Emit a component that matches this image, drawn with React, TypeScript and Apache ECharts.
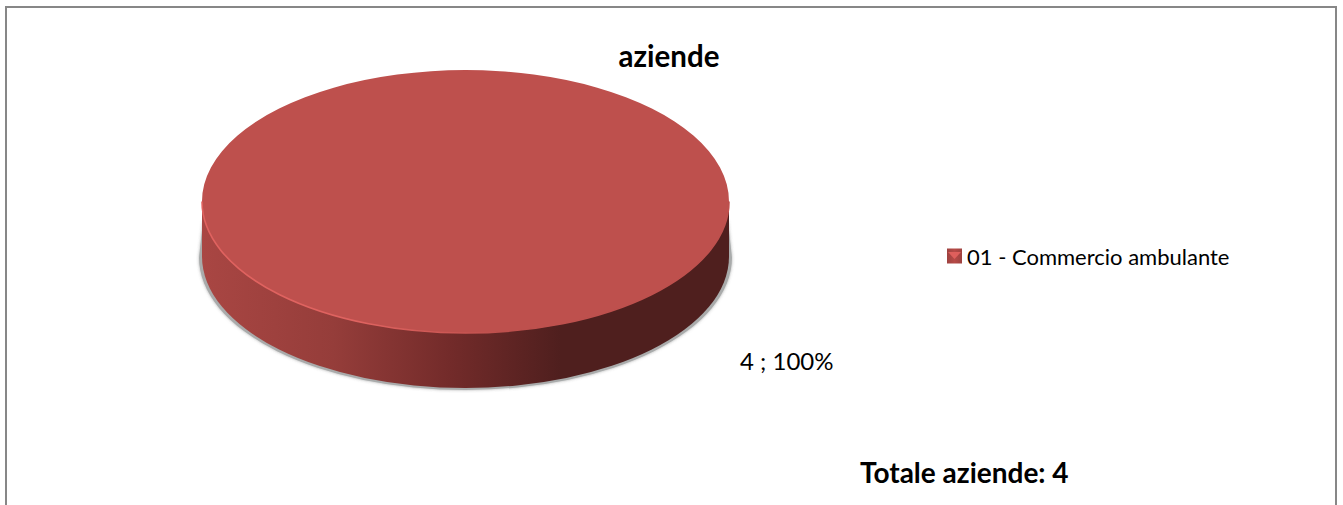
import React, { useEffect, useRef } from "react";
import * as echarts from "echarts";

const categories = ["01 - Commercio ambulante"];
const values = [4];
const chartTitle = "aziende";
const totalLabel = "Totale aziende: 4";
const FONT = "Lato, 'Open Sans', sans-serif";

const CX = 465.5, CY = 201.5, RX = 263.5, RY = 131.5, DEPTH = 55;

const sideGradient = new echarts.graphic.LinearGradient(0, 0, 1, 0, [
  { offset: 0, color: "#A94643" },
  { offset: 0.25, color: "#953D3A" },
  { offset: 0.47, color: "#732B2A" },
  { offset: 0.68, color: "#4F1F1E" },
  { offset: 1, color: "#4F1F1E" },
]);
const rimGradient = new echarts.graphic.LinearGradient(0, 0, 1, 0, [
  { offset: 0, color: "#E0625F" },
  { offset: 0.3, color: "#DF6360" },
  { offset: 0.5, color: "#C85552" },
  { offset: 0.56, color: "#BE504D" },
  { offset: 1, color: "#BE504D" },
]);

function renderSlice(params: any, api: any) {
  const total = values.reduce((a, b) => a + b, 0);
  const v = api.value(0) as number;
  const start = -Math.PI / 2;
  const end = start + (v / total) * Math.PI * 2;
  const L = CX - RX, R = CX + RX;
  const arcLower = `M${L} ${CY} A${RX} ${RY} 0 0 0 ${R} ${CY}`;
  const body = `M${L} ${CY} L${L} ${CY + DEPTH} A${RX} ${RY} 0 0 0 ${R} ${CY + DEPTH} L${R} ${CY} Z`;
  const castTop = CY + 20;
  const castMid = CY + DEPTH + 1;
  const cast = `M${L + 1} ${castTop} L${L - 3} ${castMid} A${RX + 3} ${RY + 1} 0 0 0 ${R + 3} ${castMid} L${R - 1} ${castTop} Z`;
  return {
    type: "group",
    children: [
      {
        type: "path",
        shape: { pathData: cast, x: L - 3, y: castTop, width: 2 * RX + 6, height: castMid + RY + 1 - castTop, layout: "cover" },
        style: { fill: "#A9ABAB", shadowBlur: 3, shadowColor: "rgba(90,90,90,0.5)" },
        silent: true,
      },
      {
        type: "path",
        shape: { pathData: body, x: L, y: CY, width: 2 * RX, height: RY + DEPTH, layout: "cover" },
        style: { fill: sideGradient },
      },
      {
        type: "group",
        x: CX,
        y: CY,
        scaleY: RY / RX,
        children: [
          {
            type: "sector",
            shape: { cx: 0, cy: 0, r: RX, r0: 0, startAngle: start, endAngle: end, clockwise: true },
            style: { fill: "#BE504D" },
          },
        ],
      },
      {
        type: "path",
        shape: { pathData: arcLower, x: L, y: CY, width: 2 * RX, height: RY, layout: "cover" },
        style: { fill: "none", stroke: rimGradient, lineWidth: 1.6 },
      },
      {
        type: "text",
        x: 740,
        y: 360,
        style: {
          text: `${v} ; ${Math.round((v / total) * 100)}%`,
          font: `24px ${FONT}`,
          fill: "#000000",
          textAlign: "left",
          textVerticalAlign: "middle",
        },
      },
    ],
  };
}

export default function App() {
  const ref = useRef<HTMLDivElement>(null);
  useEffect(() => {
    document.body.style.margin = "0";
    const chart = echarts.init(ref.current!, undefined, { renderer: "svg" });
    chart.setOption({
      animation: false,
      backgroundColor: "#FFFFFF",
      title: [
        {
          text: chartTitle,
          left: 669,
          top: 40,
          padding: 0,
          textAlign: "center",
          textStyle: { fontFamily: FONT, fontSize: 29.5, fontWeight: "bold", color: "#000000" },
        },
        {
          text: totalLabel,
          left: 860,
          top: 458,
          padding: 0,
          textStyle: { fontFamily: FONT, fontSize: 28, fontWeight: "bold", color: "#000000" },
        },
      ],
      legend: {
        left: 947,
        top: 245,
        padding: 0,
        orient: "vertical",
        itemWidth: 15,
        itemHeight: 15,
        itemGap: 0,
        selectedMode: false,
        textStyle: { fontFamily: FONT, fontSize: 22, color: "#000000", padding: [0, 0, 4, 0] },
        data: categories.map((name) => ({
          name,
          icon: "rect",
          itemStyle: {
            color: new echarts.graphic.LinearGradient(0, 0, 1, 0, [
              { offset: 0, color: "#9E4240" },
              { offset: 0.5, color: "#B74A47" },
              { offset: 1, color: "#9E4240" },
            ]),
          },
        })),
      },
      graphic: [
        {
          type: "polyline",
          silent: true,
          shape: { points: [[6, 505], [6, 7], [1336, 7], [1336, 505]] },
          style: { fill: "none", stroke: "#878787", lineWidth: 2 },
        },
        {
          type: "polygon",
          silent: true,
          z: 100,
          shape: { points: [[948, 252], [961, 252], [954.5, 259]] },
          style: { fill: "#DF5F5C" },
        },
      ],
      series: [
        {
          type: "custom",
          name: categories[0],
          coordinateSystem: "none",
          renderItem: renderSlice,
          data: values.map((v) => [v]),
          encode: { value: 0 },
        },
      ],
    });
    return () => chart.dispose();
  }, []);
  return <div ref={ref} style={{ width: 1343, height: 505 }} />;
}
